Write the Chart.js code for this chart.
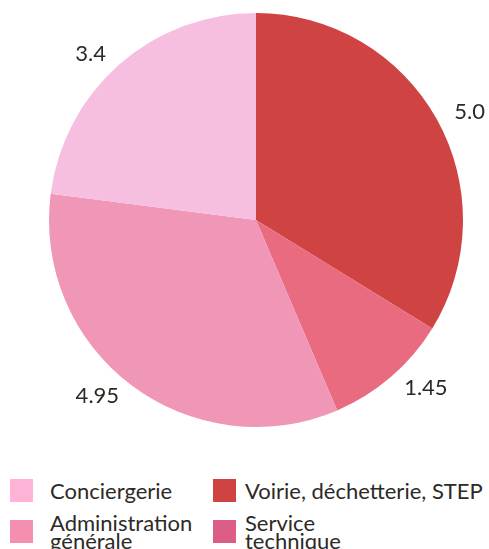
<!DOCTYPE html>
<html>
<head>
<meta charset="utf-8">
<script src="https://cdn.jsdelivr.net/npm/chart.js@4"></script>
<style>
  body { margin: 0; background: #fff; font-family: Lato, "Open Sans", sans-serif; color: #2d2a26; }
  #wrap { position: relative; width: 489px; height: 460px; }
  #legend { position: absolute; top: 479px; left: 0; width: 489px; }
  .item { position: absolute; height: 23px; display: flex; align-items: center; font-size: 22px; line-height: 18px; white-space: nowrap; }
  .box { width: 23px; height: 23px; flex: none; }
</style>
</head>
<body>
<div id="wrap"><canvas id="chartjs-0"></canvas></div>
<div id="legend"></div>
<script>
var labels = ['Voirie, déchetterie, STEP', 'Service technique', 'Administration générale', 'Conciergerie'];
var valeurs = [5.0, 1.45, 4.95, 3.4];
var texteValeurs = ['5.0', '1.45', '4.95', '3.4'];
var couleurs = ['#d04343', '#e86b80', '#f096b6', '#f6bfe0'];
var couleursLegende = ['#d04343', '#db5c85', '#f48fb0', '#ffb3d6'];

// étiquettes des valeurs autour du camembert
var etiquettes = {
  id: 'etiquettes',
  afterDatasetsDraw: function(chart) {
    var ctx = chart.ctx;
    ctx.save();
    ctx.font = '22px Lato, sans-serif';
    ctx.fillStyle = '#2d2a26';
    ctx.textBaseline = 'middle';
    chart.getDatasetMeta(0).data.forEach(function(arc, i) {
      var mid = (arc.startAngle + arc.endAngle) / 2;
      var d = arc.outerRadius + 20;
      var x = arc.x + Math.cos(mid) * d;
      var y = arc.y + Math.sin(mid) * (d - 6);
      ctx.textAlign = Math.cos(mid) >= 0 ? 'left' : 'right';
      ctx.fillText(texteValeurs[i], x, y);
    });
    ctx.restore();
  }
};

var ctx = document.getElementById('chartjs-0').getContext('2d');
var monCamembert = new Chart(ctx, {
  type: 'pie',
  data: {
    labels: labels,
    datasets: [{
      data: valeurs,
      backgroundColor: couleurs,
      borderWidth: 0
    }]
  },
  options: {
    responsive: true,
    maintainAspectRatio: false,
    animation: false,
    layout: { padding: { top: 13, bottom: 33, left: 49, right: 26 } },
    plugins: {
      legend: { display: false },
      tooltip: { enabled: false }
    }
  },
  plugins: [etiquettes]
});

// légende en deux colonnes
var ordre = [3, 0, 2, 1];
var legende = document.getElementById('legend');
ordre.forEach(function(idx, k) {
  var col = k % 2;
  var el = document.createElement('div');
  el.className = 'item';
  el.style.left = (col === 0 ? 10 : 213) + 'px';
  el.style.top = (k < 2 ? 0 : 41) + 'px';
  var txt = labels[idx] === 'Administration générale' ? 'Administration<br>générale'
          : labels[idx] === 'Service technique' ? 'Service<br>technique' : labels[idx];
  el.innerHTML = '<div class="box" style="background:' + couleursLegende[idx] +
    ';margin-right:' + (col === 0 ? 17 : 9) + 'px"></div><span>' + txt + '</span>';
  legende.appendChild(el);
});
</script>
</body>
</html>
